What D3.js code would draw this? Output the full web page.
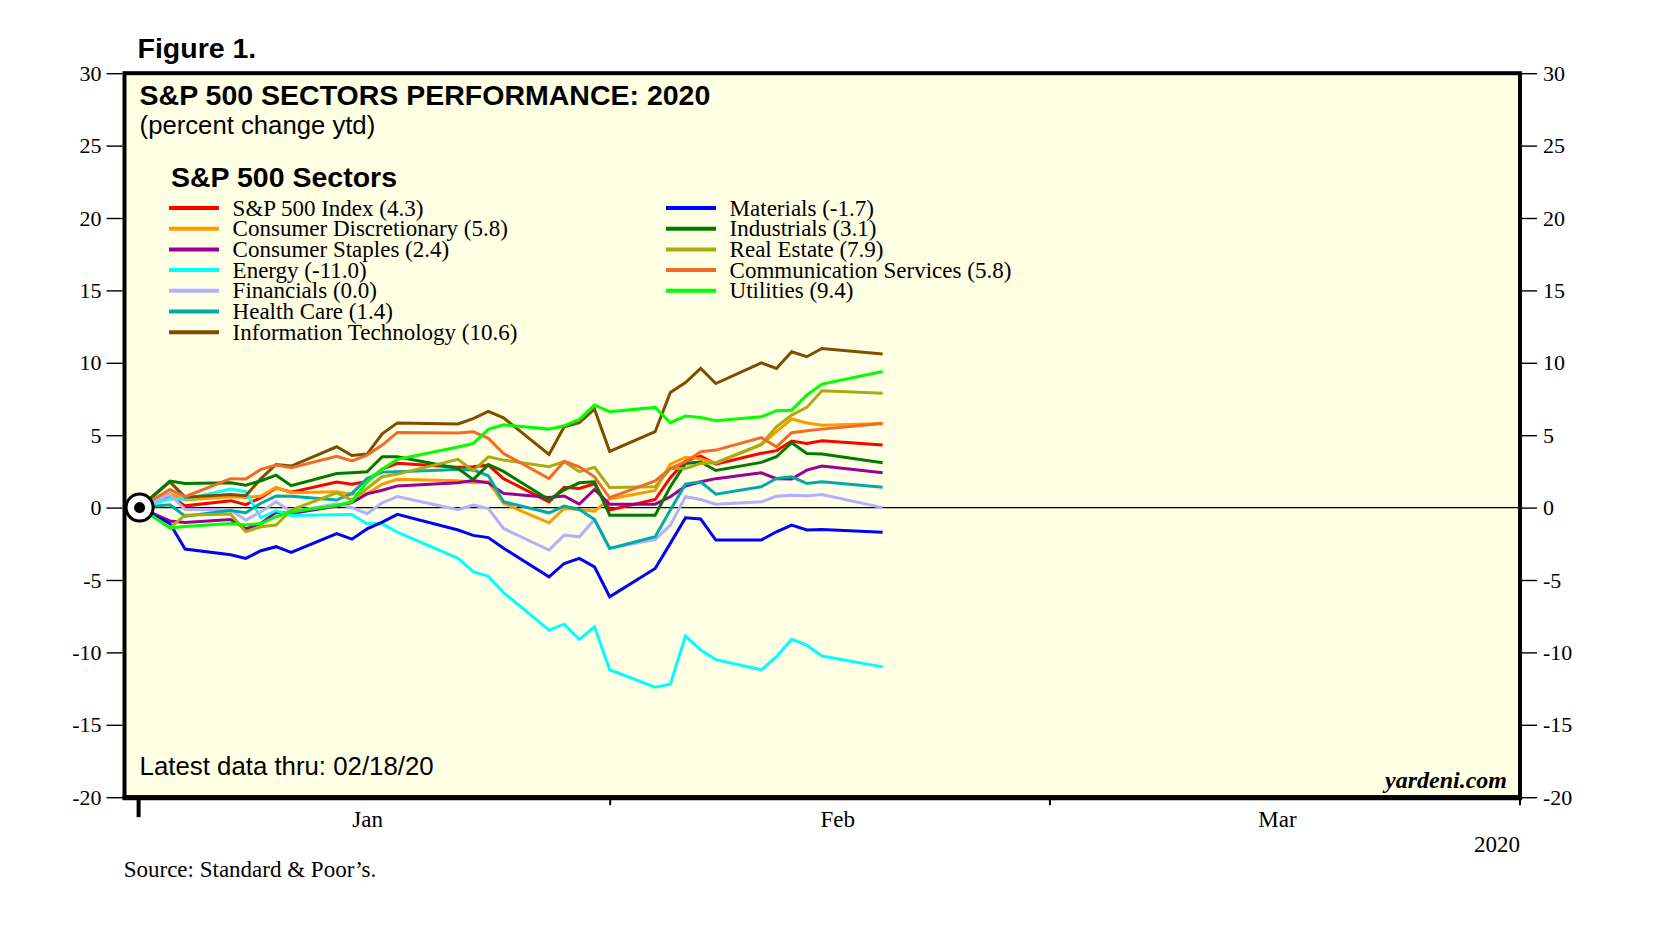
<!DOCTYPE html>
<html>
<head>
<meta charset="utf-8">
<script src="https://cdn.jsdelivr.net/npm/d3@7/dist/d3.min.js"></script>
<style>
body { margin: 0; background: #fff; }
</style>
</head>
<body>
<script>
// trading days, year to date (12/31/19 = base)
var dates = ["2019-12-31","2020-01-02","2020-01-03","2020-01-06","2020-01-07","2020-01-08","2020-01-09","2020-01-10",
  "2020-01-13","2020-01-14","2020-01-15","2020-01-16","2020-01-17","2020-01-21","2020-01-22","2020-01-23","2020-01-24",
  "2020-01-27","2020-01-28","2020-01-29","2020-01-30","2020-01-31","2020-02-03","2020-02-04","2020-02-05","2020-02-06",
  "2020-02-07","2020-02-10","2020-02-11","2020-02-12","2020-02-13","2020-02-14","2020-02-18"];

// percent change ytd
var sp500        = [0, 0.84, 0.12, 0.48, 0.20, 0.69, 1.36, 1.07, 1.77, 1.62, 1.81, 2.66, 3.06, 2.79, 2.82, 2.93, 2.00, 0.40, 1.41, 1.32, 1.64, -0.16, 0.56, 2.07, 3.22, 3.56, 3.00, 3.75, 3.93, 4.60, 4.43, 4.62, 4.32];
var consDisc     = [0, 0.98, 0.52, 0.75, 0.70, 0.80, 1.39, 1.02, 1.10, 0.93, 0.98, 1.62, 1.95, 1.85, 1.72, 1.78, 0.29, -1.05, -0.06, -0.13, -0.24, 0.60, 1.18, 3.00, 3.48, 3.36, 3.07, 4.35, 5.24, 6.12, 5.84, 5.68, 5.80];
var consStaples  = [0, -0.92, -1.03, -0.82, -1.47, -1.10, -0.32, -0.40, 0.10, 0.35, 0.95, 1.20, 1.50, 1.72, 1.87, 1.71, 0.98, 0.70, 0.80, 0.24, 1.25, 0.24, 0.24, 0.75, 1.48, 1.78, 2.00, 2.40, 2.00, 1.97, 2.59, 2.87, 2.40];
var energy       = [0, 0.60, 0.58, 1.28, 1.10, -0.70, -0.20, -0.55, -0.50, -0.47, -1.12, -1.12, -1.70, -3.50, -4.43, -4.75, -5.87, -8.46, -8.05, -9.11, -8.23, -11.20, -12.40, -12.20, -8.87, -9.84, -10.50, -11.20, -10.30, -9.10, -9.50, -10.25, -11.00];
var financials   = [0, 0.90, -0.13, -0.17, -0.86, -0.29, 0.40, -0.29, 0.27, 0.00, -0.42, 0.33, 0.77, -0.15, 0.17, -0.07, -1.44, -2.93, -1.90, -2.02, -0.82, -2.82, -2.21, -1.21, 0.75, 0.56, 0.24, 0.40, 0.79, 0.86, 0.81, 0.90, 0.00];
var healthCare   = [0, 0.20, -0.60, -0.20, -0.35, 0.30, 0.80, 0.78, 0.52, 0.98, 2.00, 2.45, 2.47, 2.63, 2.60, 2.20, 0.40, -0.36, 0.10, -0.13, -0.82, -2.82, -2.01, -0.17, 1.62, 1.78, 0.93, 1.44, 2.01, 2.13, 1.67, 1.78, 1.40];
var infoTech     = [0, 1.78, 0.72, 0.90, 0.82, 2.00, 2.98, 2.87, 4.20, 3.60, 3.70, 5.10, 5.85, 5.78, 6.15, 6.65, 6.20, 3.67, 5.58, 5.86, 6.80, 3.88, 5.24, 7.95, 8.64, 9.61, 8.57, 10.00, 9.61, 10.76, 10.42, 10.99, 10.60];
var materials    = [0, -1.10, -2.86, -3.26, -3.51, -2.98, -2.70, -3.10, -1.80, -2.18, -1.47, -1.00, -0.47, -1.55, -1.92, -2.07, -2.80, -4.78, -3.86, -3.51, -4.09, -6.16, -4.20, -2.47, -0.70, -0.79, -2.24, -2.24, -1.67, -1.21, -1.55, -1.51, -1.70];
var industrials  = [0, 1.83, 1.67, 1.71, 1.55, 1.85, 2.24, 1.51, 2.35, 2.40, 2.47, 3.51, 3.51, 2.70, 1.93, 2.97, 2.50, 0.54, 1.23, 1.71, 1.78, -0.52, -0.52, 1.44, 3.05, 3.15, 2.56, 3.12, 3.51, 4.48, 3.74, 3.70, 3.10];
var realEstate   = [0, -1.39, -0.52, -0.45, -1.67, -1.32, -1.20, -0.17, 1.02, 0.52, 1.32, 2.13, 2.31, 3.33, 2.54, 3.51, 3.28, 2.82, 3.17, 2.48, 2.78, 1.39, 1.44, 2.70, 2.70, 3.05, 3.10, 4.36, 5.58, 6.39, 6.92, 8.07, 7.90];
var commServices = [0, 1.25, 0.75, 2.00, 1.97, 2.64, 2.94, 2.75, 3.55, 3.23, 3.63, 4.32, 5.19, 5.16, 5.24, 4.78, 3.74, 2.01, 3.20, 2.82, 2.13, 0.68, 1.85, 2.70, 3.17, 3.86, 3.97, 4.84, 4.20, 5.17, 5.30, 5.42, 5.80];
var utilities    = [0, -1.40, -1.30, -1.10, -1.20, -1.10, -0.63, -0.29, 0.15, 0.40, 1.78, 2.65, 3.33, 4.18, 4.42, 5.40, 5.72, 5.42, 5.65, 6.09, 7.08, 6.62, 6.92, 5.86, 6.32, 6.23, 6.00, 6.27, 6.69, 6.73, 7.77, 8.53, 9.40];

var names1 = ["S&P 500 Index", "Consumer Discretionary", "Consumer Staples", "Energy", "Financials", "Health Care", "Information Technology"];
var names2 = ["Materials", "Industrials", "Real Estate", "Communication Services", "Utilities"];
var yTicks = [-20, -15, -10, -5, 0, 5, 10, 15, 20, 25, 30];
var xDomain = ["2019-12-31", "2020-03-31"];
var monthEnds = ["2020-01-31", "2020-02-29", "2020-03-31"];
var monthMids = ["2020-01-15", "2020-02-15", "2020-03-15"];

var W = 1658, H = 934;
var sans = "'Liberation Sans', Arial, sans-serif";
var serif = "'Liberation Serif', 'Times New Roman', serif";

var parse = d3.utcParse("%Y-%m-%d");
// plain hyphen for negatives, as in the original
var loc = d3.formatLocale({decimal: ".", thousands: ",", grouping: [3], currency: ["$", ""], minus: "-"});

var col1 = [
  {name: names1[0], values: sp500, color: "#ff0000"},
  {name: names1[1], values: consDisc, color: "#ff9900"},
  {name: names1[2], values: consStaples, color: "#990099"},
  {name: names1[3], values: energy, color: "#00ffff"},
  {name: names1[4], values: financials, color: "#b0b0ff"},
  {name: names1[5], values: healthCare, color: "#00aaaa"},
  {name: names1[6], values: infoTech, color: "#7f4c00"}
];
var col2 = [
  {name: names2[0], values: materials, color: "#0000ff"},
  {name: names2[1], values: industrials, color: "#007a00"},
  {name: names2[2], values: realEstate, color: "#aaaa11"},
  {name: names2[3], values: commServices, color: "#f26a2a"},
  {name: names2[4], values: utilities, color: "#00ff00"}
];
var series = col1.concat(col2);

var svg = d3.select("body").append("svg")
    .attr("width", W).attr("height", H)
    .style("background", "#fff");

var x = d3.scaleUtc().domain(xDomain.map(parse)).range([139.6, 1519.5]);
var y = d3.scaleLinear().domain([-20, 30]).range([797.2, 73.2]);

var frameL = 124.5, frameR = 1520;

// plot panel
svg.append("rect")
    .attr("x", frameL).attr("y", y(30))
    .attr("width", frameR - frameL).attr("height", y(-20) - y(30))
    .attr("fill", "#ffffe4");

// zero line
svg.append("line")
    .attr("x1", frameL).attr("x2", frameR)
    .attr("y1", y(0)).attr("y2", y(0))
    .attr("stroke", "#000").attr("stroke-width", 1.4);

// series lines
var line = d3.line()
    .x(function(d, i){ return x(parse(dates[i])); })
    .y(function(d){ return y(d); });

svg.append("g").selectAll("path")
    .data(series)
    .enter().append("path")
    .attr("d", function(s){ return line(s.values); })
    .attr("fill", "none")
    .attr("stroke", function(s){ return s.color; })
    .attr("stroke-width", 3);

// base marker
var base = svg.append("g");
base.append("circle")
    .attr("cx", x(parse(dates[0]))).attr("cy", y(0)).attr("r", 13.5)
    .attr("fill", "#fff").attr("stroke", "#000").attr("stroke-width", 3);
base.append("circle")
    .attr("cx", x(parse(dates[0]))).attr("cy", y(0)).attr("r", 5.5)
    .attr("fill", "#000");

// frame
svg.append("rect")
    .attr("x", frameL).attr("y", y(30))
    .attr("width", frameR - frameL).attr("height", y(-20) - y(30))
    .attr("fill", "none").attr("stroke", "#000").attr("stroke-width", 4);
svg.append("line")
    .attr("x1", frameL - 2).attr("x2", frameR + 2)
    .attr("y1", y(-20) + 0.5).attr("y2", y(-20) + 0.5)
    .attr("stroke", "#000").attr("stroke-width", 5);

// y axes
var fmt = loc.format("d");
var yl = svg.append("g").attr("transform", "translate(" + (frameL - 2) + ",0)")
    .call(d3.axisLeft(y).tickValues(yTicks).tickSize(16).tickPadding(5).tickFormat(fmt));
var yr = svg.append("g").attr("transform", "translate(" + (frameR + 2) + ",0)")
    .call(d3.axisRight(y).tickValues(yTicks).tickSize(15).tickPadding(6).tickFormat(fmt));
[yl, yr].forEach(function(g){
  g.select(".domain").remove();
  g.selectAll("line").attr("stroke", "#000").attr("stroke-width", 1.4);
  g.selectAll("text").attr("font-family", serif).attr("font-size", 22).attr("fill", "#000");
});

// x axis: month-end ticks
var xa = svg.append("g").attr("transform", "translate(0," + (y(-20) + 2) + ")")
    .call(d3.axisBottom(x).tickValues(monthEnds.map(parse)).tickSize(6).tickFormat(""));
xa.select(".domain").remove();
xa.selectAll("line").attr("stroke", "#000").attr("stroke-width", 2);

svg.append("line")
    .attr("x1", x(parse(dates[0])) - 1).attr("x2", x(parse(dates[0])) - 1)
    .attr("y1", y(-20) + 2).attr("y2", y(-20) + 20)
    .attr("stroke", "#000").attr("stroke-width", 4);

// month labels
var xm = svg.append("g").attr("transform", "translate(0," + y(-20) + ")")
    .call(d3.axisBottom(x).tickValues(monthMids.map(parse)).tickSize(0).tickFormat(d3.utcFormat("%b")));
xm.select(".domain").remove();
xm.selectAll("text").attr("dy", null).attr("y", 30)
    .attr("font-family", serif).attr("font-size", 23).attr("fill", "#000");

svg.append("text").attr("x", frameR).attr("y", 852)
    .attr("text-anchor", "end").attr("font-family", serif).attr("font-size", 23)
    .text("2020");

// titles
svg.append("text").attr("x", 137.5).attr("y", 57.5)
    .attr("font-family", sans).attr("font-weight", "bold").attr("font-size", 28.5)
    .text("Figure 1.");
svg.append("text").attr("x", 139.6).attr("y", 104.5)
    .attr("font-family", sans).attr("font-weight", "bold").attr("font-size", 28.5)
    .text("S&P 500 SECTORS PERFORMANCE: 2020");
svg.append("text").attr("x", 139.6).attr("y", 133.5)
    .attr("font-family", sans).attr("font-size", 25.7)
    .text("(percent change ytd)");
svg.append("text").attr("x", 171).attr("y", 187)
    .attr("font-family", sans).attr("font-weight", "bold").attr("font-size", 28.5)
    .text("S&P 500 Sectors");

// legend
var valFmt = function(v){ var s = loc.format(".1f")(v); return s === "-0.0" ? "0.0" : s; };
function legend(items, x0){
  var g = svg.append("g").selectAll("g").data(items).enter().append("g")
      .attr("transform", function(d, i){ return "translate(" + x0 + "," + (208 + i * 20.7) + ")"; });
  g.append("line").attr("x1", 0).attr("x2", 50)
      .attr("stroke", function(d){ return d.color; }).attr("stroke-width", 4);
  g.append("text").attr("x", 63.6).attr("y", 7.5)
      .attr("font-family", serif).attr("font-size", 23).attr("fill", "#000")
      .text(function(d){ return d.name + " (" + valFmt(d.values[d.values.length - 1]) + ")"; });
}
legend(col1, 169);
legend(col2, 666);

svg.append("text").attr("x", 139.6).attr("y", 775)
    .attr("font-family", sans).attr("font-size", 25.8)
    .text("Latest data thru: " + d3.utcFormat("%m/%d/%y")(parse(dates[dates.length - 1])));

svg.append("text").attr("x", 1507).attr("y", 788)
    .attr("text-anchor", "end").attr("font-family", serif)
    .attr("font-weight", "bold").attr("font-style", "italic").attr("font-size", 24)
    .text("yardeni.com");

svg.append("text").attr("x", 123.7).attr("y", 877)
    .attr("font-family", serif).attr("font-size", 23)
    .text("Source: Standard & Poor\u2019s.");
</script>
</body>
</html>
